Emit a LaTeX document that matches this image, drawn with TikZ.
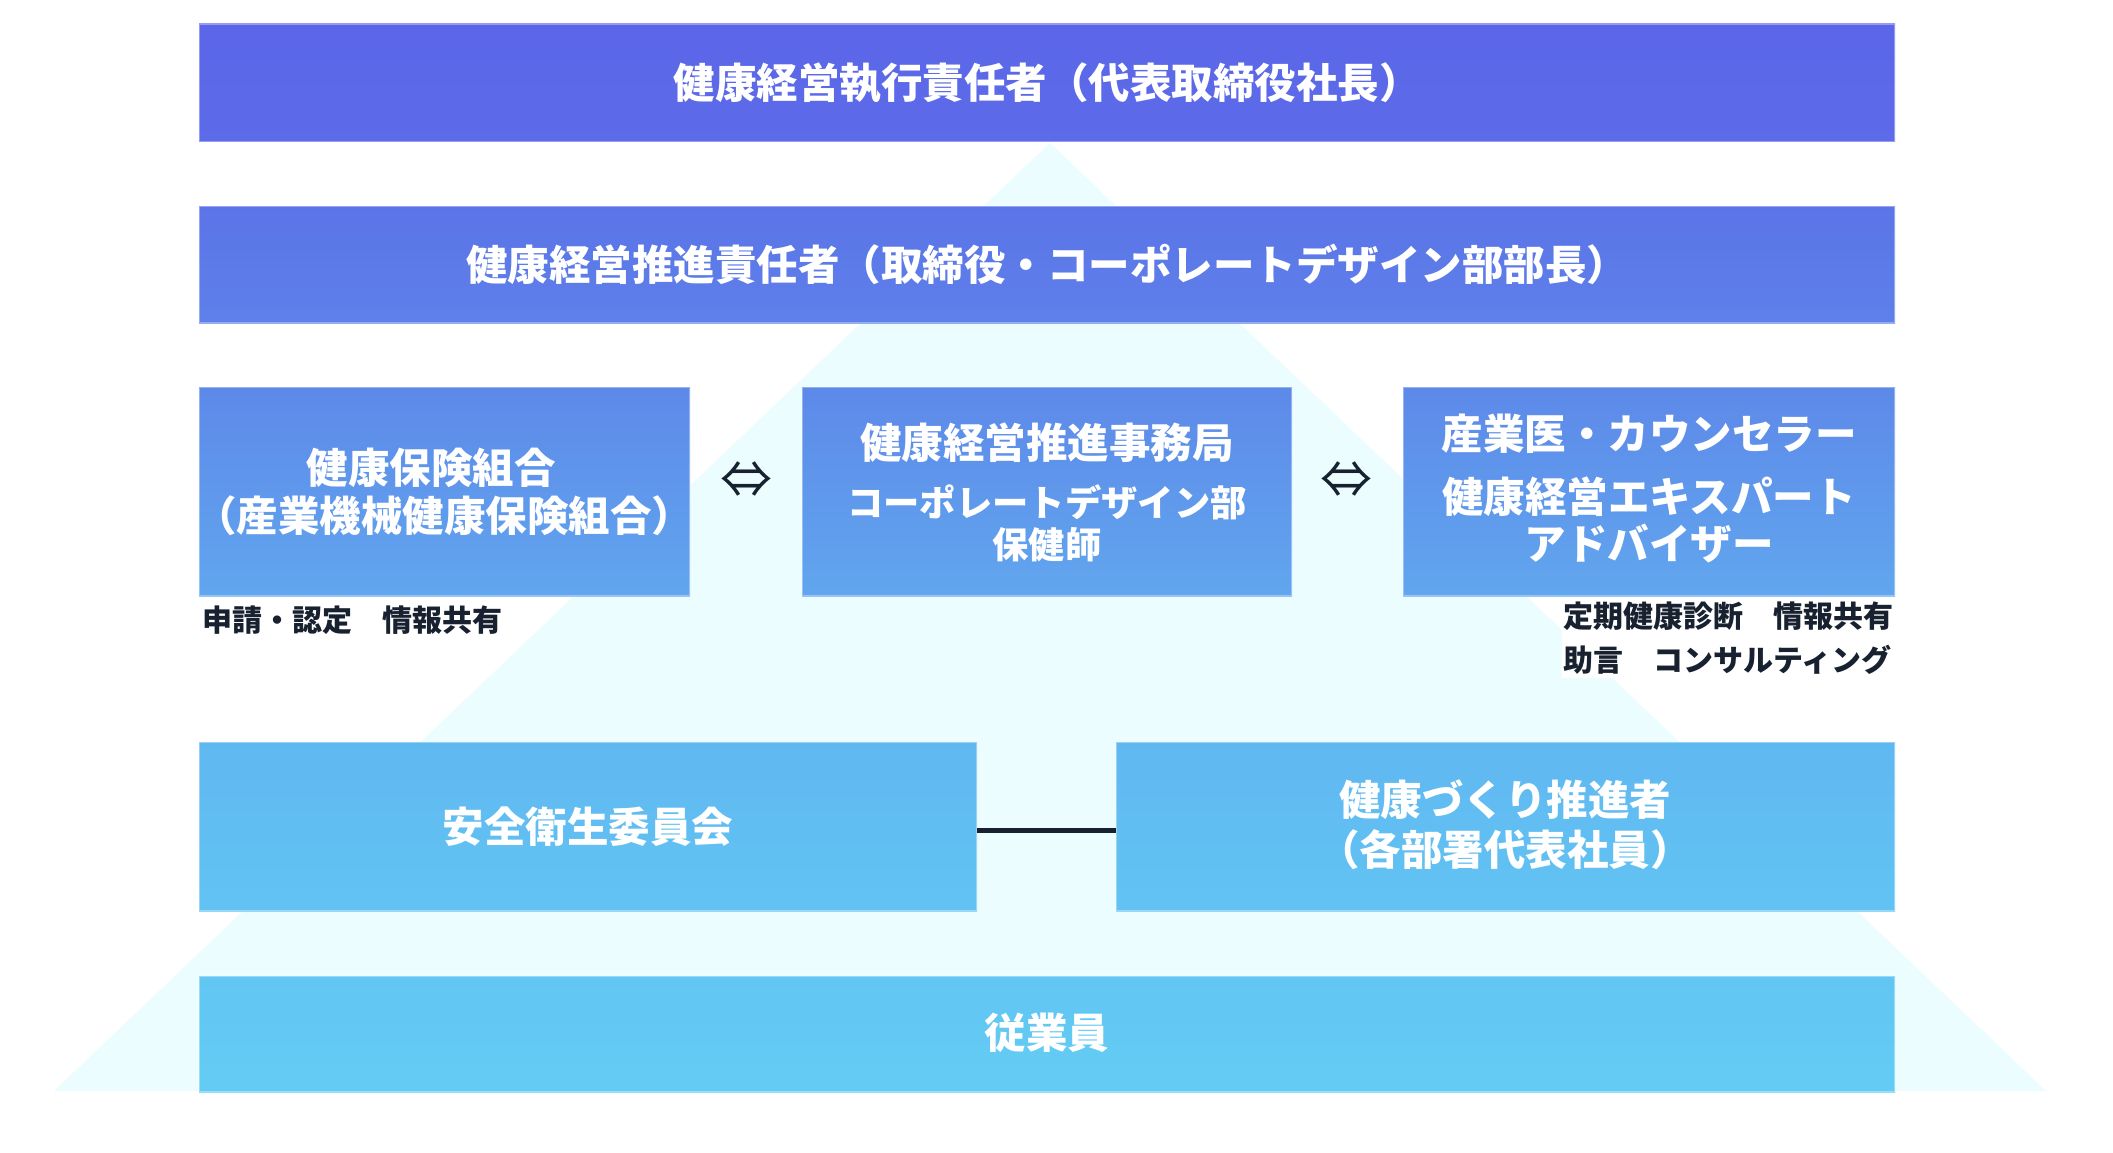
\documentclass[tikz,border=0pt]{standalone}
\usepackage{fontspec}
\setmainfont{Noto Sans CJK JP}
\definecolor{tri}{RGB}{235,253,254}
\definecolor{cA1}{RGB}{91,102,232}
\definecolor{cA2}{RGB}{92,107,233}
\definecolor{cB1}{RGB}{92,116,232}
\definecolor{cB2}{RGB}{93,128,233}
\definecolor{cC1}{RGB}{93,137,233}
\definecolor{cC2}{RGB}{97,166,238}
\definecolor{cD1}{RGB}{96,184,241}
\definecolor{cD2}{RGB}{98,195,243}
\definecolor{cE1}{RGB}{98,198,243}
\definecolor{cE2}{RGB}{99,204,244}
\definecolor{ink}{RGB}{24,33,47}
\begin{document}
\begin{tikzpicture}[x=1pt,y=-1pt,
  box/.style={inner sep=0pt, outer sep=0pt, draw=white, draw opacity=0.35, line width=1.2pt},
  wt/.style={text=white, font=\bfseries\fontsize{41.5}{48}\selectfont, inner sep=0pt},
  ws/.style={text=white, font=\bfseries\fontsize{36.3}{42}\selectfont, inner sep=0pt},
  lab/.style={text=ink, font=\bfseries\fontsize{30}{34}\selectfont, inner sep=0pt, anchor=west},
  sym/.style={text=ink, font=\fontsize{52}{56}\selectfont, inner sep=0pt},
  link/.style={draw=ink, line width=5pt}]
\useasboundingbox (0,0) rectangle (2113,1153);
\fill[white] (0,0) rectangle (2113,1153);
% background pyramid
\fill[tri] (1050,143) -- (2046,1091) -- (54,1091) -- cycle;
% white patch behind the right-hand notes
\fill[white] (1562,597) rectangle (1895,678);
% boxes
\node[box, top color=cA1, bottom color=cA2, minimum width=1696pt, minimum height=118pt] (exec) at (1047,83) {};
\node[box, top color=cB1, bottom color=cB2, minimum width=1696pt, minimum height=117pt] (prom) at (1047,264.5) {};
\node[box, top color=cC1, bottom color=cC2, minimum width=491pt, minimum height=209pt] (kenpo) at (444.5,491.5) {};
\node[box, top color=cC1, bottom color=cC2, minimum width=490pt, minimum height=209pt] (jimu) at (1047,491.5) {};
\node[box, top color=cC1, bottom color=cC2, minimum width=492pt, minimum height=209pt] (sangyo) at (1649,491.5) {};
\node[box, top color=cD1, bottom color=cD2, minimum width=778pt, minimum height=169pt] (anzen) at (588,826.5) {};
\node[box, top color=cD1, bottom color=cD2, minimum width=779pt, minimum height=169pt] (kenko) at (1505.5,826.5) {};
\node[box, top color=cE1, bottom color=cE2, minimum width=1696pt, minimum height=116pt] (staff) at (1047,1034) {};
% texts
\node[wt] (t1) at (exec.center) {健康経営執行責任者（代表取締役社長）};
\node[wt] (t2) at (prom.center) {健康経営推進責任者（取締役・コーポレートデザイン部部長）};
\node[wt] (k1) at (431,468) {健康保険組合};
\node[wt] (k2) at (444,516) {（産業機械健康保険組合）};
\node[wt] (j1) at (1047,443) {健康経営推進事務局};
\node[ws] (j2) at (1047,502) {コーポレートデザイン部};
\node[ws] (j3) at (1047,545) {保健師};
\node[wt] (s1) at (1649,434) {産業医・カウンセラー};
\node[wt] (s2) at (1649,497) {健康経営エキスパート};
\node[wt] (s3) at (1649,544) {アドバイザー};
\node[wt] (a1) at (anzen.center) {安全衛生委員会};
\node[wt] (h1) at (1505,800) {健康づくり推進者};
\node[wt] (h2) at (1505,850) {（各部署代表社員）};
\node[wt] (e1) at (1047,1033) {従業員};
% notes
\node[lab] (n1) at (202,620) {申請・認定　情報共有};
\node[lab] (n2) at (1563,616) {定期健康診断　情報共有};
\node[lab] (n3) at (1563,660) {助言　コンサルティング};
% double arrows
\node[sym] (d1) at (746,480) {⇔};
\node[sym] (d2) at (1346,480) {⇔};
% link between committee and promoters
\draw[link] ([yshift=-3.5pt]anzen.east) -- ([yshift=-3.5pt]kenko.west);
\end{tikzpicture}
\end{document}
